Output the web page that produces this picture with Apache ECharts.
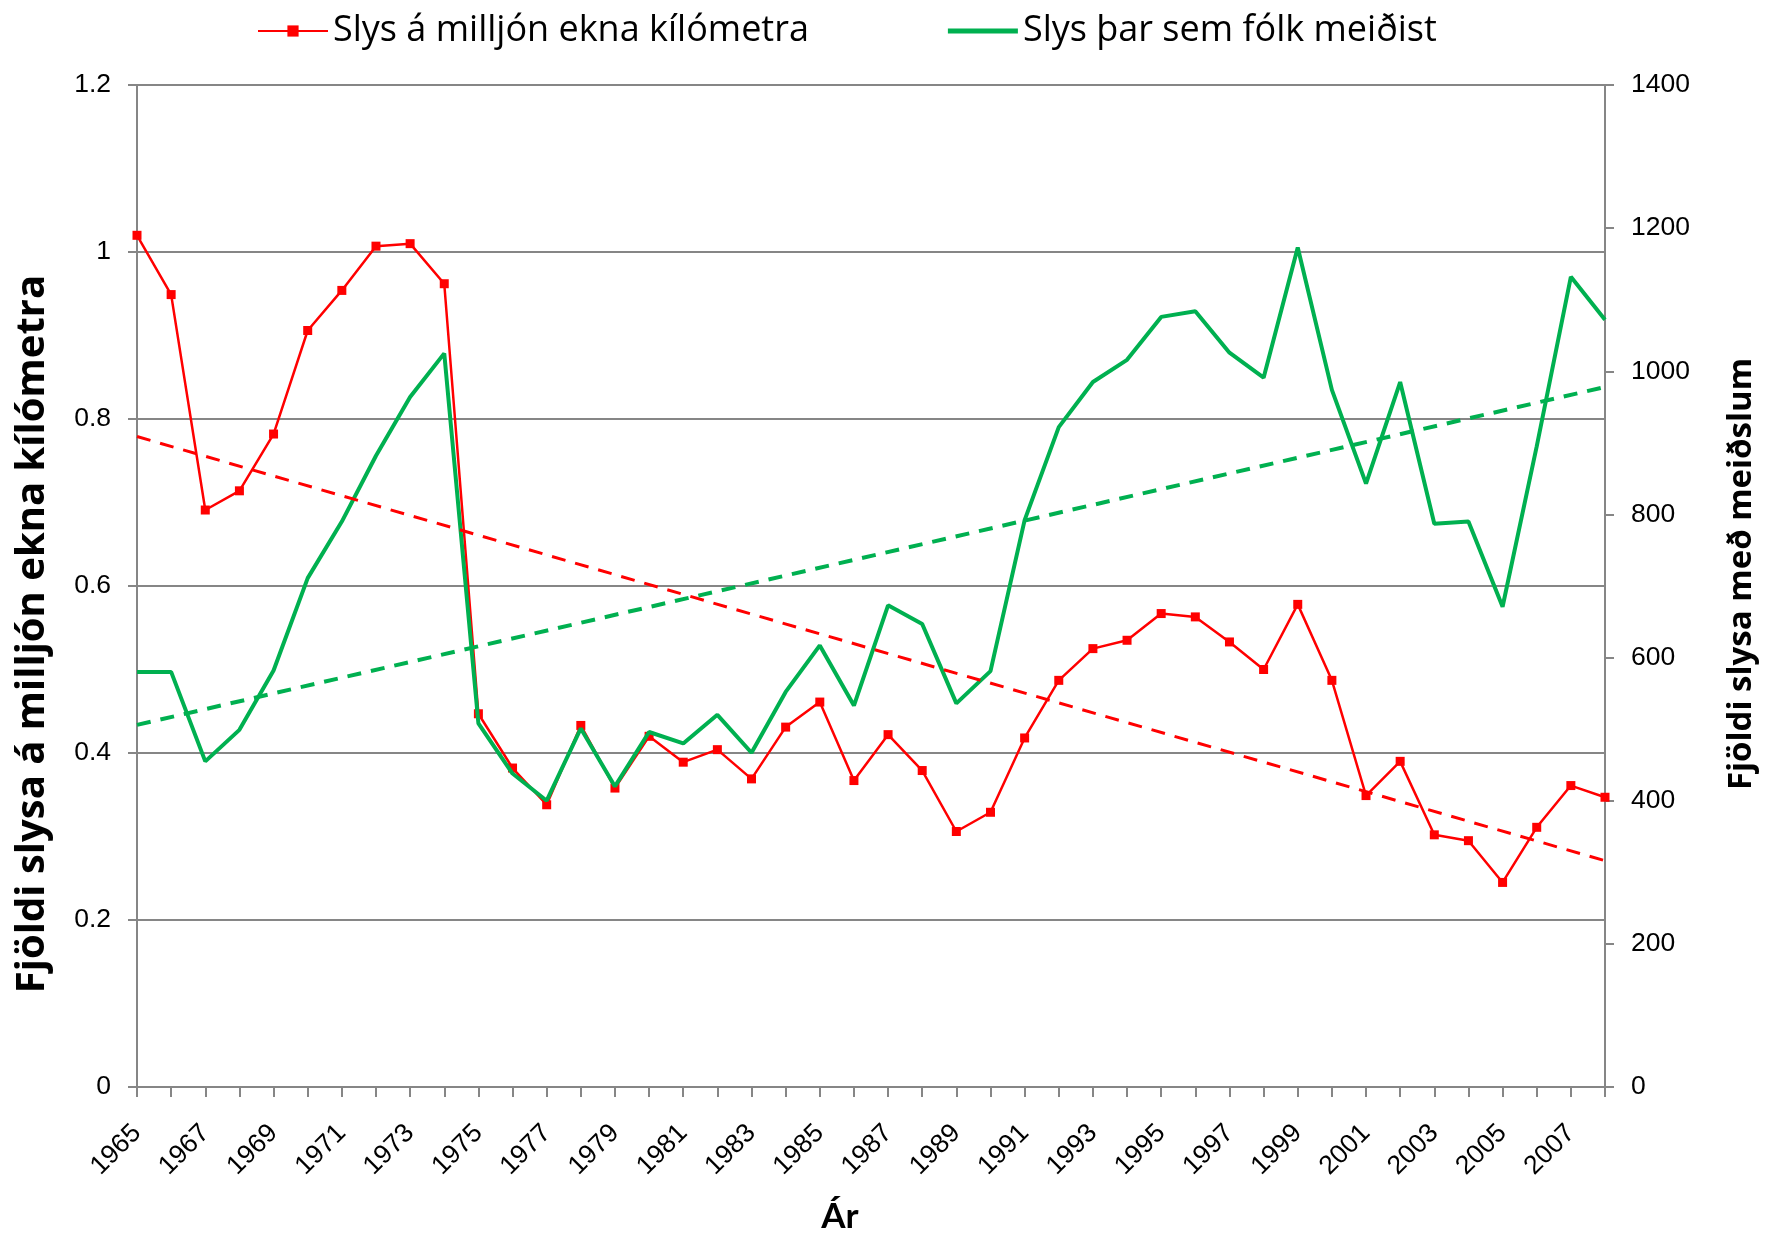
<!DOCTYPE html>
<html>
<head>
<meta charset="utf-8">
<script src="https://cdn.jsdelivr.net/npm/echarts@6/dist/echarts.min.js"></script>
<style>
html, body { margin: 0; padding: 0; background: #fff; }
#chart { width: 1769px; height: 1242px; }
</style>
</head>
<body>
<div id="chart"></div>
<script>
// ár
var years = ['1965', '1966', '1967', '1968', '1969', '1970', '1971', '1972', '1973', '1974',
    '1975', '1976', '1977', '1978', '1979', '1980', '1981', '1982', '1983', '1984',
    '1985', '1986', '1987', '1988', '1989', '1990', '1991', '1992', '1993', '1994',
    '1995', '1996', '1997', '1998', '1999', '2000', '2001', '2002', '2003', '2004',
    '2005', '2006', '2007', '2008'];
// slys á milljón ekna km (vinstri ás)
var slysPerKm = [1.020, 0.949, 0.691, 0.714, 0.782, 0.906, 0.954, 1.007, 1.010, 0.962,
    0.447, 0.382, 0.338, 0.433, 0.358, 0.420, 0.389, 0.404, 0.369, 0.431,
    0.461, 0.367, 0.422, 0.379, 0.306, 0.329, 0.418, 0.487, 0.525, 0.535,
    0.567, 0.563, 0.533, 0.500, 0.578, 0.487, 0.349, 0.390, 0.302, 0.295,
    0.245, 0.311, 0.361, 0.347];
// slys með meiðslum (hægri ás)
var slysMeidsli = [580, 580, 455, 499, 582, 711, 790, 882, 964, 1025,
    508, 438, 400, 501, 420, 496, 480, 520, 467, 552,
    617, 533, 673, 647, 536, 581, 792, 922, 985, 1016,
    1076, 1084, 1026, 991, 1173, 974, 843, 985, 787, 790,
    671, 895, 1132, 1072];
// leitnilínur: endapunktar lesnir af myndinni
var trendYears = ['1965', '2008'];
var trendPerKm = [0.779, 0.271];
var trendMeidsli = [506, 978];

var leftTicks = { min: 0, max: 1.2, interval: 0.2 };
var rightTicks = { min: 0, max: 1400, interval: 200 };

var axisGray = '#868686';
var labelFont = { fontFamily: 'Liberation Sans', fontSize: 26.5, color: '#000' };

var chart = echarts.init(document.getElementById('chart'));

var option = {
    animation: false,
    backgroundColor: '#fff',
    legend: {
        data: [
            { name: 'Slys á milljón ekna kílómetra' },
            { name: 'Slys þar sem fólk meiðist', icon: 'path://M0,0H70V5H0Z' }
        ],
        left: 252,
        top: 8,
        itemWidth: 70,
        itemHeight: 14,
        itemGap: 139,
        textStyle: { fontFamily: 'Open Sans', fontSize: 36, color: '#000' }
    },
    grid: { left: 137, right: 164, top: 85, bottom: 155 },
    xAxis: {
        type: 'category',
        data: years,
        boundaryGap: false,
        name: 'Ár',
        nameLocation: 'middle',
        nameGap: 112,
        nameTextStyle: { fontFamily: 'Lato', fontSize: 35, fontWeight: 'bold', color: '#000', padding: [0, 62, 0, 0] },
        axisLine: { lineStyle: { color: axisGray, width: 2 } },
        axisTick: { show: true, interval: 0, length: 10, lineStyle: { color: axisGray, width: 2 } },
        axisLabel: Object.assign({ interval: 1, rotate: 45, margin: 42 }, labelFont),
        splitLine: { show: false }
    },
    yAxis: [
        {
            type: 'value',
            min: leftTicks.min,
            max: leftTicks.max,
            interval: leftTicks.interval,
            position: 'left',
            name: 'Fjöldi slysa á milljón ekna kílómetra',
            nameLocation: 'middle',
            nameGap: 84,
            nameTextStyle: { fontFamily: 'Open Sans', fontSize: 40, fontWeight: 'bold', color: '#000', padding: [0, 96, 0, 0] },
            axisLine: { show: true, lineStyle: { color: axisGray, width: 2 } },
            axisTick: { show: true, length: 9, lineStyle: { color: axisGray, width: 2 } },
            axisLabel: Object.assign({ margin: 26 }, labelFont),
            splitLine: { show: true, lineStyle: { color: axisGray, width: 2 } }
        },
        {
            type: 'value',
            min: rightTicks.min,
            max: rightTicks.max,
            interval: rightTicks.interval,
            position: 'right',
            name: 'Fjöldi slysa með meiðslum',
            nameLocation: 'middle',
            nameGap: 120,
            nameTextStyle: { fontFamily: 'Open Sans', fontSize: 33, fontWeight: 'bold', color: '#000', padding: [0, 0, 0, 24] },
            axisLine: { show: true, lineStyle: { color: axisGray, width: 2 } },
            axisTick: { show: true, length: 9, lineStyle: { color: axisGray, width: 2 } },
            axisLabel: Object.assign({ margin: 26, formatter: function (v) { return String(v); } }, labelFont),
            splitLine: { show: false }
        }
    ],
    series: [
        {
            name: 'Slys á milljón ekna kílómetra',
            type: 'line',
            yAxisIndex: 0,
            data: slysPerKm,
            color: '#FF0000',
            symbol: 'rect',
            symbolSize: 9,
            showAllSymbol: true,
            lineStyle: { color: '#FF0000', width: 2.5 },
            itemStyle: { color: '#FF0000' },
            z: 3
        },
        {
            name: 'Slys þar sem fólk meiðist',
            type: 'line',
            yAxisIndex: 1,
            data: slysMeidsli,
            color: '#00B050',
            symbol: 'none',
            lineStyle: { color: '#00B050', width: 4 },
            itemStyle: { color: '#00B050' },
            z: 4
        },
        {
            name: 'Leitni slys á km',
            type: 'line',
            yAxisIndex: 0,
            data: trendYears.map(function (y, i) { return [y, trendPerKm[i]]; }),
            symbol: 'none',
            lineStyle: { color: '#FF0000', width: 3, type: [14, 10] },
            z: 5
        },
        {
            name: 'Leitni meiðsli',
            type: 'line',
            yAxisIndex: 1,
            data: trendYears.map(function (y, i) { return [y, trendMeidsli[i]]; }),
            symbol: 'none',
            lineStyle: { color: '#00B050', width: 4, type: [14, 10] },
            z: 5
        }
    ]
};

chart.setOption(option);
</script>
</body>
</html>
